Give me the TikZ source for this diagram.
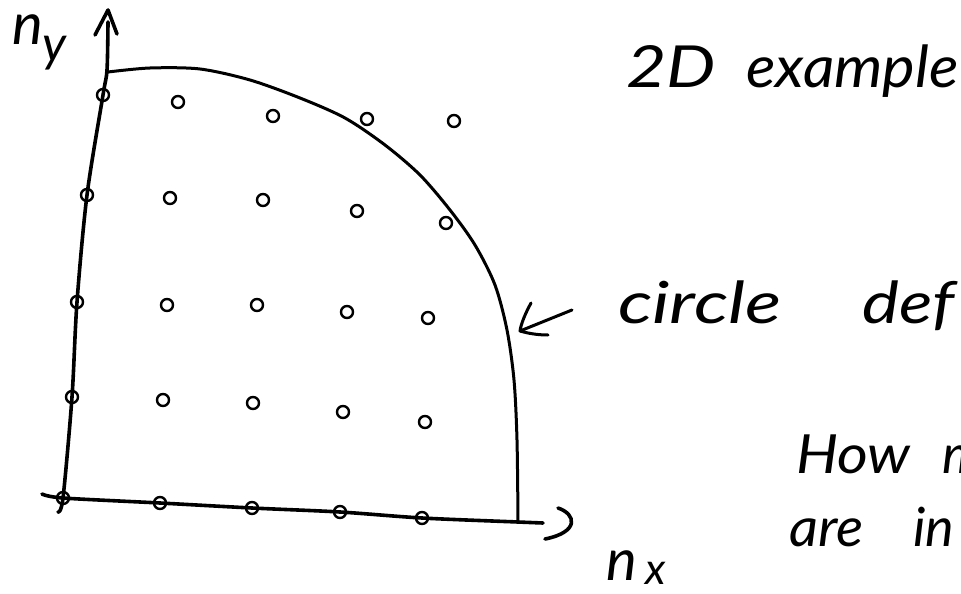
\documentclass[tikz,border=0pt]{standalone}
\usepackage{fontspec}
\usepackage{graphicx}
\setmainfont{Lato}
\begin{document}
\begin{tikzpicture}[x=1pt,y=-1pt,
  ink/.style={line width=3.6pt, line cap=round, line join=round},
  arcink/.style={line width=3pt, line cap=round, line join=round},
  dot/.style={circle, draw, line width=2.4pt, minimum size=12pt, inner sep=0pt},
  hand/.style={font=\fontsize{58}{60}\selectfont\itshape, inner sep=0pt, anchor=base west},
  small hand/.style={font=\fontsize{54}{56}\selectfont\itshape, inner sep=0pt, anchor=base west}]
\useasboundingbox (0,0) rectangle (961,594);
\clip (0,0) rectangle (961,594);
\fill[white] (0,0) rectangle (961,594);

% key points
\coordinate (O) at (63,498);
\coordinate (ytop) at (108,22);
\coordinate (ytip) at (108,10);
\coordinate (xend) at (543,523);
\coordinate (arcstart) at (108,72);
\coordinate (arcend) at (518,522);

% y axis
\draw[ink] plot[smooth] coordinates {(58,512) (O) (72,397) (77,302) (87,195) (103,95) (107,70) (ytop)};
\draw[ink] (95,35) -- (ytip) -- (117,34);

% x axis
\draw[ink] plot[smooth] coordinates {(42,494) (O) (160,503) (252,508) (340,512) (422,518) (arcend) (xend)};
\draw[ink] (558,508) .. controls (576,514) and (580,532) .. (545,539);

% quarter circle
\draw[arcink] plot[smooth] coordinates {(arcstart) (150,68) (200,69) (250,80) (300,98) (345,118) (385,145) (420,175) (450,210) (475,245) (495,285) (507,330) (514,380) (517,440) (arcend)};

% lattice points
\node[dot] (p11) at (103,95) {};
\node[dot] (p12) at (178,102) {};
\node[dot] (p13) at (273,116) {};
\node[dot] (p14) at (367,119) {};
\node[dot] (p15) at (454,121) {};
\node[dot] (p21) at (87,195) {};
\node[dot] (p22) at (170,198) {};
\node[dot] (p23) at (263,200) {};
\node[dot] (p24) at (357,211) {};
\node[dot] (p25) at (446,223) {};
\node[dot] (p31) at (77,302) {};
\node[dot] (p32) at (167,305) {};
\node[dot] (p33) at (257,305) {};
\node[dot] (p34) at (347,312) {};
\node[dot] (p35) at (428,318) {};
\node[dot] (p41) at (72,397) {};
\node[dot] (p42) at (163,400) {};
\node[dot] (p43) at (253,403) {};
\node[dot] (p44) at (343,412) {};
\node[dot] (p45) at (425,422) {};
\node[dot] (p51) at (O) {};
\node[dot] (p52) at (160,503) {};
\node[dot] (p53) at (252,508) {};
\node[dot] (p54) at (340,512) {};
\node[dot] (p55) at (422,518) {};

% pointer arrow to the circle
\coordinate (atail) at (572,310);
\coordinate (atip) at (520,331);
\draw[arcink] (atail) -- (atip);
\draw[arcink] (531,303) .. controls (525,314) and (521,324) .. (atip) .. controls (530,334) and (540,335) .. (548,335);

% labels
\node[hand] (ny) at (12,45) {n};
\node[hand, font=\fontsize{50}{52}\selectfont\itshape] (nyy) at (42,62) {y};
\node[hand] (nx) at (606,580) {n};
\node[hand, font=\fontsize{44}{48}\selectfont\itshape] (nxx) at (645,584) {x};

\node[hand] (t2d) at (626,88) {\scalebox{1.2}[1]{2D}};
\node[hand] (tex) at (746,88) {\scalebox{1.06}[1]{example}};
\node[hand] (tci) at (618,323) {\scalebox{1.3}[1]{circle}};
\node[hand] (tde) at (862,323) {\scalebox{1.2}[1]{def}};
\node[small hand] (tho) at (796,473) {\scalebox{1.1}[1]{How}};
\node[small hand] (tm) at (942,473) {m};
\node[small hand] (tar) at (789,546) {\scalebox{1.05}[1]{are}};
\node[small hand] (tin) at (913,546) {in};
\end{tikzpicture}
\end{document}
